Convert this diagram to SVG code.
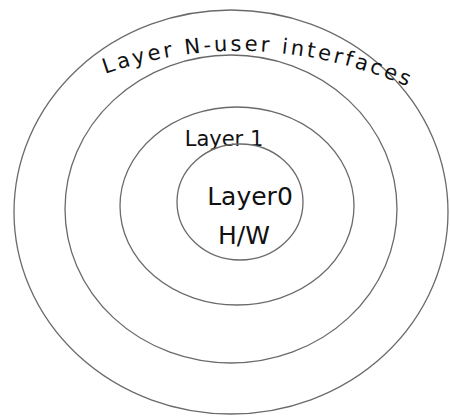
<svg xmlns="http://www.w3.org/2000/svg" width="450" height="419" viewBox="0 0 450 419">
<style>
.ring{fill:none;stroke:#6a6a6a;stroke-width:1.3}
.lbl{font-family:"DejaVu Sans","Liberation Sans",sans-serif;fill:#111;font-size:21px}
.big{font-size:25px}
</style>
<defs>
<path id="arc" d="M105,74 Q260,20 420,92"/>
</defs>
<rect width="450" height="419" fill="#fff"/>
<g id="layerN">
<ellipse class="ring" cx="231" cy="212" rx="217" ry="202"/>
<text class="lbl" font-size="22"><textPath href="#arc" textLength="310" lengthAdjust="spacing">Layer N-user interfaces</textPath></text>
</g>
<g id="layer2">
<ellipse class="ring" cx="231" cy="209" rx="166" ry="154"/>
</g>
<g id="layer1">
<ellipse class="ring" cx="237" cy="206" rx="117" ry="99"/>
<text class="lbl" x="224" y="146" text-anchor="middle">Layer 1</text>
</g>
<g id="layer0">
<ellipse class="ring" cx="240" cy="202" rx="63" ry="58"/>
<text class="lbl big" x="250" y="205" text-anchor="middle">Layer0</text>
<text class="lbl big" x="244" y="244" text-anchor="middle">H/W</text>
</g>
</svg>
